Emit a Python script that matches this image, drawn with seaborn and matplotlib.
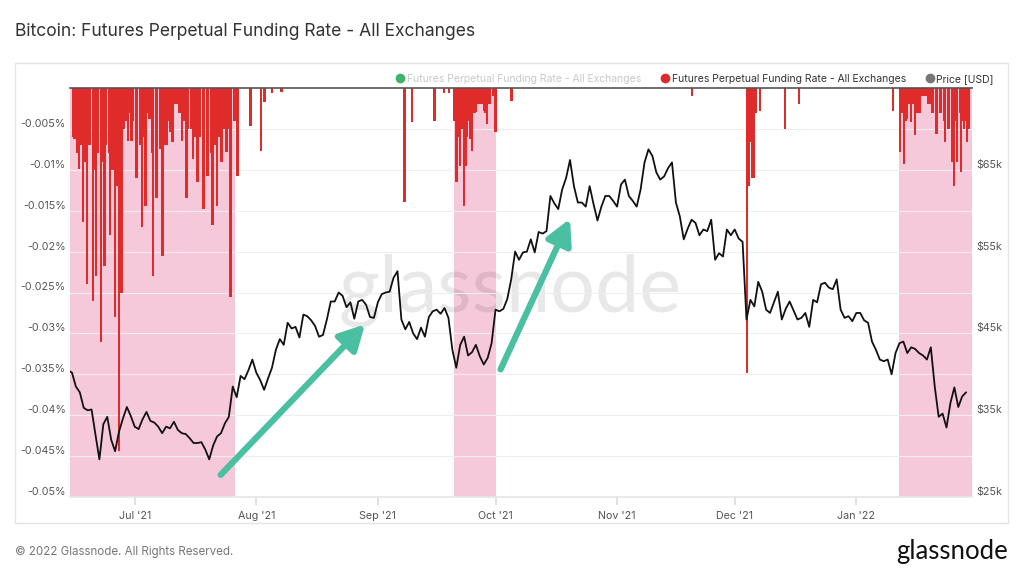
import numpy as np
import pandas as pd
import matplotlib
matplotlib.use("Agg")
import matplotlib.pyplot as plt
import matplotlib.dates as mdates
import seaborn as sns
from matplotlib.lines import Line2D
from matplotlib.patches import Rectangle

sns.set_theme(style="white")
plt.rcParams['font.family'] = ['Inter', 'DejaVu Sans']

# ---------------- data ----------------
title = "Bitcoin: Futures Perpetual Funding Rate - All Exchanges"
legend_labels = ["Futures Perpetual Funding Rate - All Exchanges",
                 "Futures Perpetual Funding Rate - All Exchanges",
                 "Price [USD]"]

price_start = "2021-06-14"
price_values = [
    # Jun 14-30
    40.5, 40.2, 38.5, 37.8, 35.9, 35.6, 35.7, 32.6, 29.6, 33.9, 34.8, 32.0, 30.6, 33.0, 34.6, 36.0, 34.9,
    # Jul
    33.6, 33.3, 34.5, 35.4, 34.3, 34.1, 33.6, 32.8, 33.6, 33.4, 34.2, 33.2, 32.8, 32.7, 32.2, 31.6,
    31.6, 31.7, 30.8, 29.6, 31.3, 32.4, 32.8, 34.0, 34.8, 38.5, 37.2, 39.8, 39.4, 40.5, 41.8,
    # Aug
    40.2, 39.3, 38.1, 39.5, 40.8, 43.0, 44.3, 43.6, 46.3, 45.6, 45.8, 44.5, 47.3, 47.1, 46.6, 45.9,
    44.6, 44.8, 46.7, 48.9, 48.9, 50.0, 49.6, 48.2, 48.8, 46.8, 48.9, 49.1, 48.5, 47.0, 46.9,
    # Sep
    48.8, 49.8, 50.0, 50.1, 51.8, 52.6, 46.7, 45.5, 46.4, 45.0, 44.3, 45.7, 44.6, 47.0, 47.7,
    47.9, 47.4, 48.1, 46.9, 43.0, 40.8, 43.6, 44.6, 42.3, 42.7, 43.6, 42.2, 41.2, 42.0, 43.8,
    # Oct
    47.9, 47.7, 48.0, 49.2, 51.6, 55.0, 54.0, 54.9, 55.0, 56.5, 54.9, 57.4, 57.2, 57.5, 61.8, 60.9,
    60.2, 62.6, 64.0, 66.2, 63.0, 61.0, 61.0, 60.5, 63.0, 60.8, 58.8, 60.5, 61.8, 61.8, 61.2,
    # Nov
    60.5, 63.2, 63.8, 61.8, 61.2, 60.5, 62.6, 65.9, 67.5, 66.7, 64.7, 63.8, 64.2, 65.2, 65.9,
    61.0, 59.3, 56.5, 57.8, 58.9, 58.5, 57.0, 57.7, 57.5, 58.9, 54.0, 54.8, 54.4, 57.7, 57.0,
    # Dec
    57.7, 56.6, 56.2, 46.7, 49.1, 48.3, 51.3, 50.1, 47.9, 47.5, 48.8, 50.1, 46.7, 48.0, 48.9, 47.8,
    46.7, 46.9, 47.5, 45.8, 49.1, 48.8, 51.0, 51.2, 50.6, 50.4, 51.6, 47.9, 46.9, 47.1, 46.5,
    # Jan
    47.5, 47.5, 46.6, 46.3, 44.0, 43.0, 41.8, 41.6, 41.8, 40.0, 42.6, 43.8, 44.0, 42.6, 43.3,
    43.1, 42.6, 42.3, 41.8, 43.3, 38.5, 34.8, 35.2, 33.5, 36.5, 38.4, 36.0, 37.3, 37.8,
]

# daily background funding level inside the negative-funding periods (% per 8h)
base1_start = "2021-06-15"
base1_values = [-0.006, -0.008, -0.007, -0.009, -0.007, -0.010, -0.008, -0.009, -0.007, -0.008,
                -0.010, -0.012, -0.009, -0.004, -0.003, -0.004,
                -0.005, -0.007, -0.006, -0.003, -0.008, -0.006, -0.004, -0.007, -0.004, -0.003,
                -0.002, -0.003, -0.004, -0.005, -0.005, -0.006, -0.006, -0.007, -0.006, -0.008,
                -0.007, -0.006, -0.005, -0.005, -0.007, -0.004]
base2_start = "2021-09-20"
base2_values = [-0.004, -0.006, -0.005, -0.006, -0.004, -0.003, -0.002, -0.002, -0.003, -0.002, -0.001]
base3_start = "2022-01-12"
base3_values = [-0.003, -0.004, -0.002, -0.002, -0.003, -0.001, -0.001, -0.002, -0.003,
                -0.004, -0.003, -0.004, -0.005, -0.005, -0.004, -0.003, -0.004, -0.005]

spike_times = [
    "2021-06-15 16:00", "2021-06-16 19:00", "2021-06-17 19:00", "2021-06-18 19:00", "2021-06-20 08:00",
    "2021-06-21 02:00", "2021-06-22 08:00", "2021-06-23 08:00", "2021-06-24 16:00", "2021-06-25 22:00",
    "2021-06-26 22:00", "2021-06-27 16:00", "2021-06-28 04:00", "2021-06-29 05:00", "2021-06-30 05:00",
    "2021-07-01 12:00", "2021-07-02 19:00", "2021-07-03 19:00", "2021-07-04 19:00", "2021-07-05 14:00",
    "2021-07-06 14:00", "2021-07-07 09:00", "2021-07-08 03:00", "2021-07-09 03:00", "2021-07-09 22:00",
    "2021-07-10 16:00", "2021-07-13 00:00", "2021-07-14 05:00", "2021-07-15 19:00", "2021-07-17 00:00",
    "2021-07-18 14:00", "2021-07-19 14:00", "2021-07-20 19:00", "2021-07-21 22:00", "2021-07-23 03:00",
    "2021-07-24 10:00", "2021-07-25 10:00", "2021-07-27 05:00", "2021-07-30 12:00", "2021-08-02 03:00",
    "2021-08-03 03:00", "2021-08-05 00:00", "2021-08-07 10:00",
    "2021-09-07 20:00", "2021-09-09 16:00", "2021-09-15 10:00", "2021-09-17 21:00", "2021-09-19 04:00",
    "2021-09-21 02:00", "2021-09-22 00:00", "2021-09-23 00:00", "2021-09-23 12:00", "2021-09-24 12:00",
    "2021-09-25 00:00", "2021-09-26 00:00", "2021-09-28 02:00", "2021-09-28 20:00", "2021-09-29 08:00",
    "2021-10-01 00:00", "2021-10-05 02:00", "2021-11-20 02:00",
    "2021-12-04 02:00", "2021-12-04 14:00", "2021-12-05 00:00", "2021-12-05 08:00", "2021-12-05 20:00",
    "2021-12-06 08:00", "2021-12-07 10:00", "2021-12-13 20:00", "2021-12-17 10:00",
    "2022-01-10 10:00", "2022-01-12 05:00", "2022-01-13 05:00", "2022-01-14 00:00", "2022-01-15 00:00",
    "2022-01-16 00:00", "2022-01-17 07:00", "2022-01-21 10:00", "2022-01-22 10:00", "2022-01-23 14:00",
    "2022-01-24 17:00", "2022-01-25 10:00", "2022-01-25 22:00", "2022-01-26 17:00", "2022-01-27 17:00",
    "2022-01-28 10:00", "2022-01-29 05:00",
]
spike_values = [
    -0.0062, -0.0099, -0.0164, -0.0240, -0.0260,
    -0.0230, -0.0310, -0.0217, -0.0180, -0.0280,
    -0.0444, -0.0250, -0.0050, -0.0065, -0.0065,
    -0.0110, -0.0170, -0.0144, -0.0038, -0.0230,
    -0.0135, -0.0074, -0.0205, -0.0070, -0.0054,
    -0.0066, -0.0065, -0.0135, -0.0087, -0.0115,
    -0.0148, -0.0107, -0.0168, -0.0144, -0.0090,
    -0.0078, -0.0255, -0.0107, -0.0046, -0.0077,
    -0.0017, -0.0006, -0.0005,
    -0.0139, -0.0041, -0.0040, -0.0006, -0.0006,
    -0.0115, -0.0095, -0.0144, -0.0095, -0.0062,
    -0.0077, -0.0029, -0.0028, -0.0044, -0.0015,
    -0.0054, -0.0016, -0.0010,
    -0.0349, -0.0120, -0.0066, -0.0110, -0.0110,
    -0.0030, -0.0028, -0.0050, -0.0020,
    -0.0028, -0.0078, -0.0093, -0.0038, -0.0041,
    -0.0058, -0.0030, -0.0056, -0.0010, -0.0066,
    -0.0046, -0.0090, -0.0120, -0.0090, -0.0103,
    -0.0050, -0.0066,
]

# negative-funding periods (shaded)
shade_starts = ["2021-06-14 00:00", "2021-09-20 12:00", "2022-01-12 00:00"]
shade_ends = ["2021-07-26 12:00", "2021-10-01 00:00", "2022-01-31 00:00"]

funding_ticks = [-0.05, -0.045, -0.04, -0.035, -0.03, -0.025, -0.02, -0.015, -0.01, -0.005]
price_ticks = [25, 35, 45, 55, 65]

# trend arrows: (tail date, tail price, head date, head price)
arrows = [("2021-07-22 22:00", 27.7, "2021-08-28 17:00", 46.1),
          ("2021-10-02 07:00", 40.6, "2021-10-20 00:00", 59.0)]

# ---------------- figure ----------------
RED = "#e02b2b"
PINK = "#f6c9da"
TEAL = "#4bbfa2"

fig = plt.figure(figsize=(10.24, 5.68), dpi=100)
fig.patch.set_facecolor("white")
ax = fig.add_axes([70 / 1024, 1 - 497 / 568, 902 / 1024, 409 / 568])
ax2 = ax.twinx()

x0 = pd.Timestamp("2021-06-14 12:00")
x1 = pd.Timestamp("2022-01-30 12:00")

for s, e in zip(shade_starts, shade_ends):
    ax.axvspan(pd.Timestamp(s), pd.Timestamp(e), color=PINK, lw=0, zorder=0)

# watermark
ax.text(0.488, 0.505, "glassnode", transform=ax.transAxes, fontsize=57, color="black",
        alpha=0.09, ha="center", va="center", zorder=0.5, family=["Lato", "DejaVu Sans"])

for start, vals in [(base1_start, base1_values), (base2_start, base2_values), (base3_start, base3_values)]:
    d = pd.date_range(start, periods=len(vals), freq="D") + pd.Timedelta(hours=12)
    ax.bar(d, vals, width=0.85, color=RED, lw=0, zorder=1)
ax.bar(pd.to_datetime(spike_times), spike_values, width=0.6, color=RED, lw=0, zorder=1)

ax.set_ylim(-0.05, 0)
ax.set_yticks(funding_ticks)
ax.set_yticklabels([f"{v:g}%" for v in funding_ticks])
ax.yaxis.grid(True, color="#eeeeee", lw=0.8)
ax.set_axisbelow(True)
for lbl in ax.get_yticklabels():
    lbl.set_verticalalignment("bottom")
ax.tick_params(axis="y", length=0, pad=3, labelsize=7.7, labelcolor="#555555")

# price line
price_dates = pd.date_range(price_start, periods=len(price_values), freq="D")
sns.lineplot(x=price_dates, y=price_values, ax=ax2, color="#111111", lw=1.3, zorder=3)
ax2.set_ylim(25, 75)
ax2.set_yticks(price_ticks)
ax2.set_yticklabels([f"${v}k" for v in price_ticks])
for lbl in ax2.get_yticklabels():
    lbl.set_verticalalignment("bottom")
ax2.tick_params(axis="y", length=0, pad=3, labelsize=7.7, labelcolor="#555555")
ax2.set_ylabel("")
ax.set_ylabel("")
ax2.set_xlabel("")
ax2.grid(False)

for t_d, t_p, h_d, h_p in arrows:
    ax2.annotate("", xy=(mdates.date2num(pd.Timestamp(h_d)), h_p),
                 xytext=(mdates.date2num(pd.Timestamp(t_d)), t_p),
                 arrowprops=dict(arrowstyle="-|>,head_length=0.75,head_width=0.4",
                                 color=TEAL, lw=4.5, mutation_scale=20, shrinkA=0, shrinkB=0),
                 zorder=4)

ax.set_xlim(x0, x1)
ax.xaxis.set_major_locator(mdates.MonthLocator())
ax.xaxis.set_major_formatter(mdates.DateFormatter("%b '%y"))
ax.tick_params(axis="x", length=6, color="#dddddd", labelsize=7.7, labelcolor="#555555", pad=4,
               bottom=True)

for sp in ["left", "right"]:
    ax.spines[sp].set_visible(False)
    ax2.spines[sp].set_visible(False)
ax2.spines["top"].set_visible(False)
ax2.spines["bottom"].set_visible(False)
ax.spines["top"].set_color("#555555")
ax.spines["top"].set_linewidth(1.2)
ax.spines["bottom"].set_color("#e6e6e6")

# outer panel
fig.add_artist(Rectangle((15 / 1024, 1 - 523 / 568), 993 / 1024, 460 / 568,
                         transform=fig.transFigure, fill=False, ec="#e4e4e4", lw=1))

fig.text(15 / 1024, 1 - 32 / 568, title, fontsize=12.6, color="#333333", va="center", ha="left")
fig.text(15 / 1024, 1 - 552 / 568, "© 2022 Glassnode. All Rights Reserved.", fontsize=8.3,
         color="#777777", va="center", ha="left")
fig.text(1008 / 1024, 1 - 551 / 568, "glassnode", fontsize=18.5, color="#111111", va="center",
         ha="right", family=["Lato", "DejaVu Sans"])

handles = [Line2D([], [], marker="o", ls="", color=c, markersize=6)
           for c in ["#3fb36b", RED, "#777777"]]
leg = fig.legend(handles, legend_labels, loc="center right", bbox_to_anchor=(994 / 1024, 1 - 79 / 568),
                 ncol=3, frameon=False, fontsize=7.5, handletextpad=0.25, columnspacing=1.9,
                 handlelength=0.8, borderaxespad=0, borderpad=0)
cols = ["#c9c9c9", "#333333", "#333333"]
for t, c in zip(leg.get_texts(), cols):
    t.set_color(c)

fig.savefig("out.png", dpi=100)
